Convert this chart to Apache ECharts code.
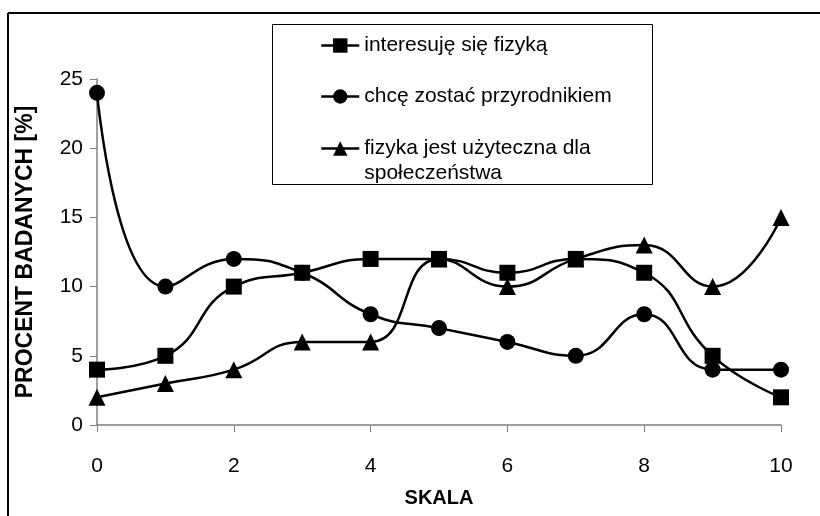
<!DOCTYPE html>
<html><head><meta charset="utf-8">
<script src="https://cdn.jsdelivr.net/npm/echarts@6/dist/echarts.min.js"></script>
<style>html,body{margin:0;padding:0;background:#fff}#c{width:820px;height:516px}</style>
</head><body><div id="c"></div>
<script>
const skala = [0,1,2,3,4,5,6,7,8,9,10];
const interesuje = [4,5,10,11,12,12,11,12,11,5,2];
const przyrodnik = [24,10,12,11,8,7,6,5,8,4,4];
const uzyteczna = [2,3,4,6,6,12,10,12,13,10,15];
const names = ['interesuję się fizyką','chcę zostać przyrodnikiem','fizyka jest użyteczna dla\nspołeczeństwa'];
const xTicks = [0,2,4,6,8,10];
const yTicks = [0,5,10,15,20,25];
const F = '"Liberation Sans", Arial, sans-serif';
const pairs = arr => skala.map((x,i)=>[x,arr[i]]);
const chart = echarts.init(document.getElementById('c'), null, {renderer:'canvas'});
function ser(name, data, symbol, size){
  return {name, type:'line', data:pairs(data), smooth:0.5, symbol, symbolSize:size,
    lineStyle:{color:'#000',width:2.5}, itemStyle:{color:'#000'}, emphasis:{disabled:true}, z:3};
}
function leg(name, top, fmt){
  const l = {data:[name], left:320, top, orient:'vertical', itemWidth:38, itemHeight:18, itemGap:0,
    padding:0, selectedMode:false, lineStyle:{width:2.5,color:'#000'},
    textStyle:{fontFamily:F,fontSize:21,color:'#000',lineHeight:25}};
  if (fmt) l.formatter = fmt;
  return l;
}
chart.setOption({
  animation:false,
  backgroundColor:'#fff',
  grid:{left:97,right:39,top:79,bottom:91},
  xAxis:{type:'value',min:0,max:10,interval:2,
    name:'SKALA',nameLocation:'middle',nameGap:63,
    nameTextStyle:{fontFamily:F,fontSize:20,fontWeight:'bold',color:'#000'},
    axisLine:{lineStyle:{color:'#808080',width:1.5}},
    axisTick:{show:true,inside:false,length:7,lineStyle:{color:'#808080'}},
    axisLabel:{fontFamily:F,fontSize:21,color:'#000',margin:31,formatter:v=>xTicks.includes(v)?String(v):''},
    splitLine:{show:false}},
  yAxis:{type:'value',min:0,max:25,interval:5,
    name:'PROCENT BADANYCH [%]',nameLocation:'middle',nameGap:60,nameRotate:90,
    nameTextStyle:{fontFamily:F,fontSize:23,fontWeight:'bold',color:'#000'},
    axisLine:{show:true,lineStyle:{color:'#808080',width:1.5}},
    axisTick:{show:true,inside:false,length:7,lineStyle:{color:'#808080'}},
    axisLabel:{fontFamily:F,fontSize:21,color:'#000',margin:14,formatter:v=>yTicks.includes(v)?String(v):''},
    splitLine:{show:false}},
  legend:[leg(names[0],33),leg(names[1],84),leg(names[2],111,n=>'\n'+n)],
  graphic:[
    {type:'rect',shape:{x:272.5,y:24.5,width:380,height:160},style:{fill:'#fff',stroke:'#000',lineWidth:1},z:1},
    {type:'line',shape:{x1:8,y1:13,x2:820,y2:13},style:{stroke:'#000',lineWidth:2}},
    {type:'line',shape:{x1:8,y1:13,x2:8,y2:516},style:{stroke:'#000',lineWidth:2}}
  ],
  series:[
    ser(names[0],interesuje,'rect',16),
    ser(names[1],przyrodnik,'circle',16),
    ser(names[2],uzyteczna,'triangle',17)
  ]
});
</script></body></html>
